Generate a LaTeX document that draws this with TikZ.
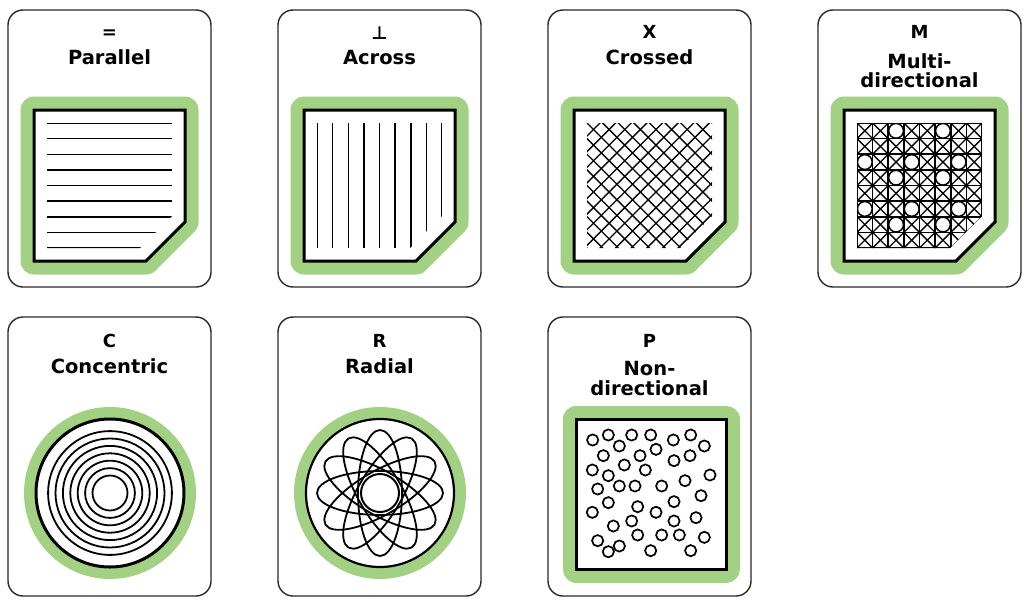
\documentclass[tikz,border=0pt]{standalone}
\usepackage{fontspec}
\setmainfont{DejaVu Sans}
\definecolor{cardgreen}{RGB}{162,209,132}
\definecolor{cardedge}{RGB}{40,40,40}
\tikzset{
  card/.style={draw=cardedge, line width=1.4pt, rounded corners=15pt, fill=white},
  halo/.style={draw=cardgreen, fill=cardgreen, line width=27pt, line join=round},
  frame/.style={draw=black, fill=white, line width=3pt, line join=miter},
  hatch/.style={draw=black, line width=1.5pt},
  gridln/.style={draw=black, line width=1.7pt},
  ring/.style={draw=black, line width=1.8pt},
  dot/.style={draw=black, line width=1.7pt},
  sym/.style={font=\bfseries\fontsize{18}{18}\selectfont, anchor=base, inner sep=0pt},
  lbl/.style={font=\bfseries\fontsize{19.5}{19.5}\selectfont, anchor=base, inner sep=0pt},
}
\newcommand{\chamfershape}[1]{\path[#1] (26,100) -- (177,100) -- (177,212) -- (138,251) -- (26,251) -- cycle;}
\newcommand{\chamferclip}{\clip (39,113) -- (164,113) -- (164,206) -- (132,238) -- (39,238) -- cycle;}
\newcommand{\cardbox}[1]{\path[card] (0,0) rectangle (203,#1);}
\begin{document}
\begin{tikzpicture}[x=1pt,y=-1pt]
\useasboundingbox (0,0) rectangle (1024,602);
\fill[white] (0,0) rectangle (1024,602);

% ---------- Card 1: Parallel ----------
\begin{scope}[shift={(8,10)}]
  \cardbox{277}
  \chamfershape{halo}
  \chamfershape{frame}
  \begin{scope}
    \chamferclip
    \foreach \k in {0,...,8}
      \draw[hatch] (39,{113+\k*15.625}) -- (164,{113+\k*15.625});
  \end{scope}
\end{scope}
\node[sym] (s1) at (109.5,38) {=};
\node[lbl] (n1) at (109.5,64) {Parallel};

% ---------- Card 2: Across ----------
\begin{scope}[shift={(278,10)}]
  \cardbox{277}
  \chamfershape{halo}
  \chamfershape{frame}
  \begin{scope}
    \chamferclip
    \foreach \k in {0,...,8}
      \draw[hatch] ({39+\k*15.625},113) -- ({39+\k*15.625},238);
  \end{scope}
\end{scope}
\node[sym] (s2) at (379.5,40) {⊥};
\node[lbl] (n2) at (379.5,64) {Across};

% ---------- Card 3: Crossed ----------
\begin{scope}[shift={(548,10)}]
  \cardbox{277}
  \chamfershape{halo}
  \chamfershape{frame}
  \begin{scope}
    \chamferclip
    \foreach \k in {-9,...,9}
      \draw[hatch, line width=1.3pt] ({-74+\k*15.625+100},100) -- ({-74+\k*15.625+260},260);
    \foreach \k in {-2,...,15}
      \draw[hatch, line width=1.3pt] ({165+\k*15.625-100},100) -- ({165+\k*15.625-260},260);
  \end{scope}
\end{scope}
\node[sym] (s3) at (649.5,39) {X};
\node[lbl] (n3) at (649.5,64) {Crossed};

% ---------- Card 4: Multi-directional ----------
\begin{scope}[shift={(818,10)}]
  \cardbox{277}
  \chamfershape{halo}
  \chamfershape{frame}
  \begin{scope}
    \chamferclip
    \foreach \i in {0,...,7} {
      \foreach \j in {0,...,7} {
        \pgfmathtruncatemacro\isc{(mod(\i,3)==2 && mod(\j,3)==0) || (mod(\i,3)==0 && mod(\j,3)==2)}
        \pgfmathsetmacro\ux{39+\i*15.625}
        \pgfmathsetmacro\uy{113+\j*15.625}
        \ifnum\isc=1
          \draw[hatch] ({\ux+7.8125},{\uy+7.8125}) circle[radius=7.4];
        \else
          \draw[hatch, line width=1.3pt] (\ux,\uy) -- ({\ux+15.625},{\uy+15.625});
          \draw[hatch, line width=1.3pt] ({\ux+15.625},\uy) -- (\ux,{\uy+15.625});
        \fi
      }
    }
    \foreach \k in {0,...,8} {
      \draw[gridln] ({39+\k*15.625},113) -- ({39+\k*15.625},238);
      \draw[gridln] (39,{113+\k*15.625}) -- (164,{113+\k*15.625});
    }
  \end{scope}
\end{scope}
\node[sym] (s4) at (919.5,39) {M};
\node[lbl] (n4a) at (919.5,68) {Multi-};
\node[lbl] (n4b) at (919.5,87) {directional};

% ---------- Card 5: Concentric ----------
\begin{scope}[shift={(8,317)}]
  \cardbox{279}
  \fill[cardgreen] (102,176) circle[radius=86];
  \draw[frame] (102,176) circle[radius=74];
  \foreach \r in {17.5,24.9,32.3,39.7,47.1,54.5,61.9}
    \draw[ring] (102,176) circle[radius=\r];
\end{scope}
\node[sym] (s5) at (109.5,347) {C};
\node[lbl] (n5) at (109.5,373) {Concentric};

% ---------- Card 6: Radial ----------
\begin{scope}[shift={(278,317)}]
  \cardbox{279}
  \fill[cardgreen] (102,176) circle[radius=86];
  \draw[frame, line width=2.2pt] (102,176) circle[radius=74];
  \foreach \a in {0,30,...,150}
    \draw[ring, rotate around={\a:(102,176)}] (102,176) ellipse[x radius=63, y radius=22];
  \draw[ring, fill=white, line width=2pt] (102,176) circle[radius=19];
\end{scope}
\node[sym] (s6) at (379.5,347) {R};
\node[lbl] (n6) at (379.5,373) {Radial};

% ---------- Card 7: Non-directional ----------
\begin{scope}[shift={(548,317)}]
  \cardbox{279}
  \path[halo] (28,102) rectangle (178,252);
  \path[frame] (28,102) rectangle (178,252);
\end{scope}
\foreach \zx/\zy in {68/75,115/60,185/60,242/60,310/75,362/60,148/93,403/93,
  100/122,210/122,258/103,312/137,360/122,67/165,163/150,226/165,115/182,420/180,
  83/222,148/213,195/213,275/213,345/197,393/242,115/263,67/292,203/275,258/292,
  312/260,378/308,130/333,185/318,312/318,83/377,203/360,275/360,328/360,403/367,
  148/393,115/410,242/407,362/407}
  \draw[dot] ({570+\zx/3},{415+\zy/3}) circle[radius=5.6];
\node[sym] (s7) at (649.5,347) {P};
\node[lbl] (n7a) at (649.5,375) {Non-};
\node[lbl] (n7b) at (649.5,395) {directional};
\end{tikzpicture}
\end{document}
